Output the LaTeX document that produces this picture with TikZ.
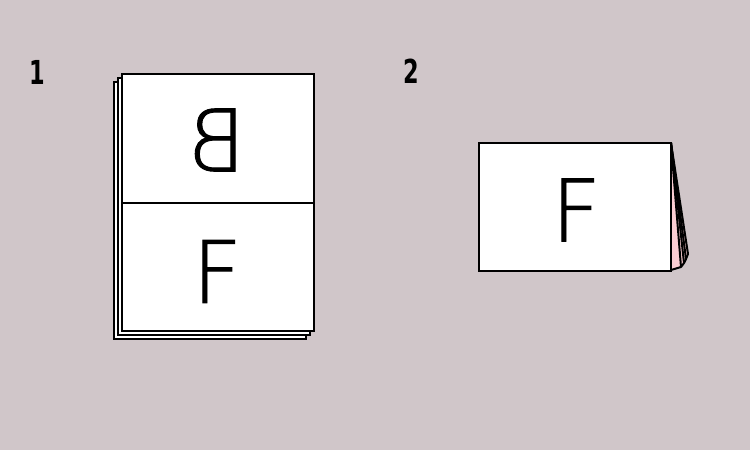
\documentclass[tikz,border=0pt]{standalone}
\usepackage{fontspec}
\IfFontExistsTF{DejaVu Sans ExtraLight}
  {\newfontfamily\thinfont[FakeBold=1.1]{DejaVu Sans ExtraLight}}
  {\newfontfamily\thinfont{DejaVu Sans}}
\newfontfamily\numfont{DejaVu Sans}
\definecolor{bgc}{RGB}{208,198,201}
\definecolor{pinkc}{RGB}{250,205,210}
\tikzset{
  sheet/.style={draw=black, fill=white, line width=2.4pt},
  letter/.style={inner sep=0pt, outer sep=0pt, font=\thinfont\fontsize{86}{86}\selectfont},
  numlabel/.style={inner sep=0pt, font=\numfont\bfseries\fontsize{33}{33}\selectfont, xscale=0.68},
  fanline/.style={draw=black, line width=2pt, line join=round}
}
\begin{document}
\begin{tikzpicture}[x=1pt,y=-1pt]
\fill[bgc] (0,0) rectangle (750,450);
\useasboundingbox (0,0) rectangle (750,450);
% panel 1
\node[numlabel] (n1) at (37,72) {1};
\draw[sheet] (114,82) rectangle (306,339);
\draw[sheet] (118,78) rectangle (310,335);
\draw[sheet] (122,74) rectangle (314,331);
\coordinate (foldL) at (122,203);
\coordinate (foldR) at (314,203);
\draw[line width=2.4pt] (foldL) -- (foldR);
\node[letter, xscale=-1] (lb) at (217.5,140) {B};
\node[letter] (lf1) at (217,271.5) {F};
% panel 2
\node[numlabel] (n2) at (411,71) {2};
\coordinate (top) at (671,143);
\coordinate (b1) at (688,254);
\coordinate (b2) at (686,259);
\coordinate (b3) at (684,263);
\coordinate (b4) at (681,267);
\fill[pinkc] (top) -- (b1) -- (b2) -- (b3) -- (b4) -- (671,270) -- cycle;
\draw[fanline] (top) -- (b1) -- (b2);
\draw[fanline] (top) -- (b2) -- (b3);
\draw[fanline] (top) -- (b3) -- (b4);
\draw[fanline] (top) -- (b4) -- (671,270);
\draw[sheet] (479,143) rectangle (671,271);
\node[letter] (lf2) at (576,210) {F};
\end{tikzpicture}
\end{document}
